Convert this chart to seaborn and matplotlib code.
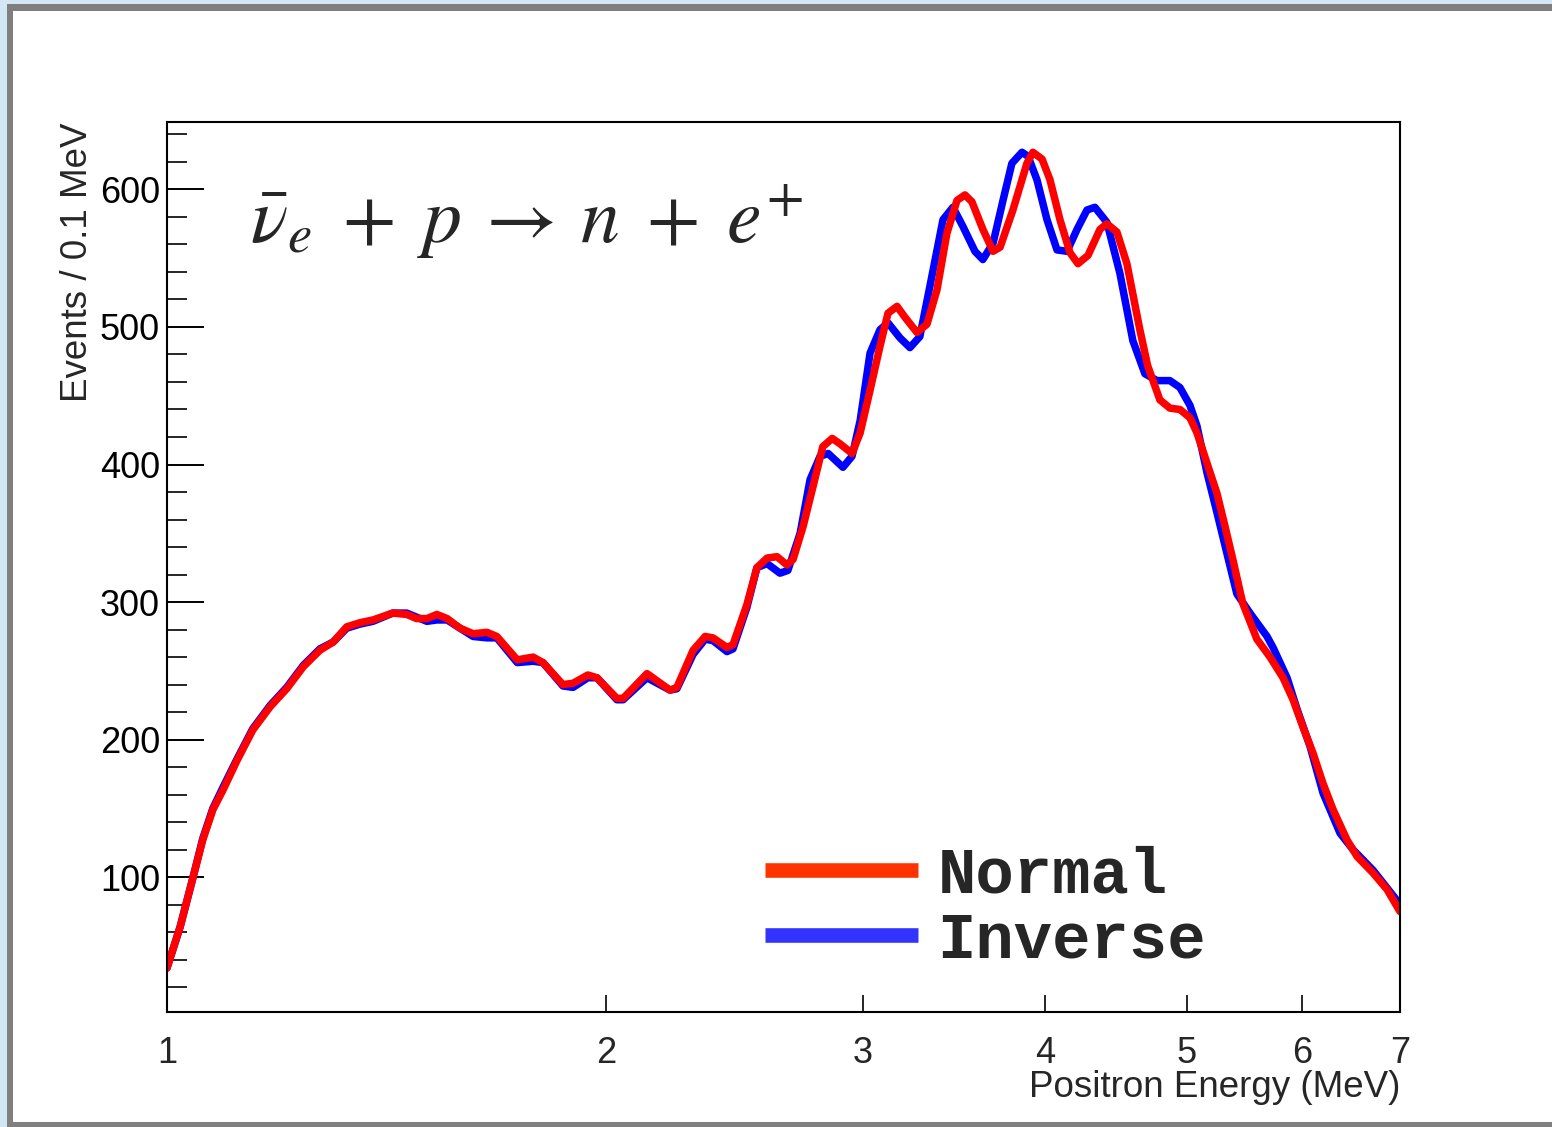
import numpy as np
import pandas as pd
import seaborn as sns
import matplotlib.pyplot as plt
from matplotlib.patches import Rectangle
from matplotlib.lines import Line2D
from matplotlib.ticker import FixedLocator, MultipleLocator, NullLocator

# Positron energy spectrum, normal hierarchy
energy_normal = [1.00, 1.021, 1.042, 1.058, 1.075, 1.092, 1.117, 1.145, 1.177, 1.208,
                 1.240, 1.273, 1.300, 1.328, 1.356, 1.384, 1.428, 1.460, 1.483, 1.507,
                 1.531, 1.556, 1.588, 1.621, 1.657, 1.683, 1.738, 1.782, 1.810, 1.868,
                 1.898, 1.943, 1.971, 2.034, 2.054, 2.133, 2.212, 2.236, 2.294, 2.338,
                 2.367, 2.420, 2.443, 2.497, 2.537, 2.578, 2.619, 2.660, 2.686, 2.729,
                 2.772, 2.815, 2.857, 2.893, 2.948, 2.986, 3.033, 3.081, 3.120, 3.165,
                 3.205, 3.266, 3.318, 3.371, 3.424, 3.479, 3.523, 3.562, 3.624, 3.683,
                 3.724, 3.800, 3.885, 3.922, 3.979, 4.029, 4.093, 4.158, 4.211, 4.278,
                 4.360, 4.408, 4.478, 4.549, 4.643, 4.700, 4.792, 4.868, 4.946, 5.025,
                 5.081, 5.162, 5.244, 5.311, 5.377, 5.462, 5.585, 5.702, 5.820, 5.913,
                 6.007, 6.103, 6.200, 6.299, 6.439, 6.542, 6.709, 6.859, 7.00]
events_normal = [34, 64, 100, 127, 149, 163, 185, 207, 224, 237,
                 253, 265, 271, 282, 285, 287, 292, 291, 288, 288,
                 291, 288, 281, 277, 278, 275, 258, 260, 256, 240,
                 241, 247, 245, 230, 230, 248, 236, 238, 265, 275,
                 274, 267, 269, 298, 325, 332, 333, 327, 331, 355,
                 384, 413, 419, 415, 408, 423, 454, 486, 510, 515,
                 507, 496, 502, 527, 568, 592, 596, 591, 571, 555,
                 558, 585, 619, 627, 622, 607, 578, 554, 546, 552,
                 571, 575, 569, 546, 498, 472, 447, 441, 440, 434,
                 423, 401, 379, 355, 331, 299, 273, 260, 245, 229,
                 209, 190, 168, 149, 127, 115, 103, 91, 75]

# Inverse hierarchy
energy_inverse = [1.00, 1.021, 1.042, 1.058, 1.075, 1.092, 1.117, 1.145, 1.177, 1.208,
                  1.240, 1.273, 1.300, 1.328, 1.356, 1.384, 1.428, 1.460, 1.483, 1.507,
                  1.531, 1.556, 1.588, 1.621, 1.657, 1.683, 1.738, 1.782, 1.810, 1.868,
                  1.898, 1.943, 1.971, 2.034, 2.054, 2.133, 2.212, 2.236, 2.294, 2.338,
                  2.367, 2.420, 2.443, 2.497, 2.537, 2.578, 2.631, 2.664, 2.716, 2.759,
                  2.803, 2.839, 2.906, 2.948, 2.986, 3.033, 3.081, 3.120, 3.180, 3.230,
                  3.281, 3.334, 3.403, 3.457, 3.512, 3.579, 3.624, 3.683, 3.741, 3.794,
                  3.855, 3.892, 3.947, 4.010, 4.074, 4.139, 4.205, 4.271, 4.325, 4.408,
                  4.499, 4.592, 4.680, 4.770, 4.868, 4.946, 5.025, 5.081, 5.162, 5.244,
                  5.328, 5.411, 5.524, 5.675, 5.729, 5.857, 5.951, 6.074, 6.200, 6.368,
                  6.500, 6.709, 6.967, 7.00]
events_inverse = [34, 64, 100, 128, 150, 165, 186, 208, 225, 238,
                  254, 266, 271, 281, 284, 286, 292, 292, 289, 286,
                  287, 287, 281, 275, 274, 274, 256, 257, 256, 239,
                  238, 245, 245, 229, 229, 245, 236, 237, 262, 273,
                  272, 264, 266, 296, 325, 328, 321, 323, 350, 389,
                  406, 408, 398, 406, 432, 481, 498, 503, 492, 485,
                  493, 530, 578, 587, 573, 555, 549, 561, 592, 619,
                  627, 624, 607, 578, 556, 555, 571, 585, 587, 576,
                  539, 490, 466, 461, 461, 456, 443, 428, 394, 365,
                  335, 306, 292, 275, 267, 245, 222, 195, 161, 132,
                  120, 105, 83, 80]

x_ticks = [1, 2, 3, 4, 5, 6, 7]
x_tick_labels = ['1', '2', '3', '4', '5', '6', '7']
legend_labels = ['Normal', 'Inverse']

sns.set_style('ticks')
plt.rcParams['font.family'] = ['Liberation Sans', 'DejaVu Sans']
plt.rcParams['mathtext.fontset'] = 'stix'

W, H = 1552, 1127
fig = plt.figure(figsize=(W / 100, H / 100), dpi=100)
fig.patch.set_facecolor('#d3e6f3')
# ROOT-style canvas frame
fig.add_artist(Rectangle((7 / W, 0), 1, (H - 4) / H, transform=fig.transFigure,
                         facecolor='#7f7f7f', edgecolor='none', zorder=-2))
fig.add_artist(Rectangle((13 / W, 5 / H), 1, (H - 16) / H, transform=fig.transFigure,
                         facecolor='white', edgecolor='none', zorder=-1))

ax = fig.add_axes([167 / W, (H - 1012) / H, 1233 / W, 890 / H])
ax.set_facecolor('white')

sns.lineplot(x=energy_inverse, y=events_inverse, color='#0000ff', lw=5.4,
             estimator=None, sort=False, ax=ax, solid_joinstyle='round')
sns.lineplot(x=energy_normal, y=events_normal, color='#ff0000', lw=5.4,
             estimator=None, sort=False, ax=ax, solid_joinstyle='round')

ax.set_xscale('log')
ax.set_xlim(1, 7)
ax.set_ylim(2, 649)

ax.xaxis.set_major_locator(FixedLocator(x_ticks))
ax.set_xticklabels(x_tick_labels)
ax.xaxis.set_minor_locator(NullLocator())
ax.yaxis.set_major_locator(MultipleLocator(100))
ax.yaxis.set_minor_locator(MultipleLocator(20))

ax.tick_params(axis='y', which='major', direction='in', length=26.5, width=1.4,
               pad=5, labelsize=26, colors='black')
ax.tick_params(axis='y', which='minor', direction='in', length=14.4, width=1.4)
ax.tick_params(axis='x', which='major', direction='in', length=12, width=1.4,
               pad=17, labelsize=26)
ax.tick_params(top=False, right=False)
for s in ax.spines.values():
    s.set_linewidth(1.5)
    s.set_color('black')

ax.set_xlabel('Positron Energy (MeV)', fontsize=26.5, loc='right')
ax.xaxis.set_label_coords(1.0, -0.065)
ax.set_ylabel('Events / 0.1 MeV', fontsize=26.5, loc='top')
ax.yaxis.set_label_coords(-0.058, 1.0)

ax.text(0.067, 0.864, r'$\bar{\nu}_{e}\;+\;p\:\rightarrow\:n\;+\;e^{+}$',
        transform=ax.transAxes, fontsize=56, va='baseline', ha='left')

handles = [Line2D([], [], color='#ff3300', lw=10.5, solid_capstyle='butt'),
           Line2D([], [], color='#3333ff', lw=10.5, solid_capstyle='butt')]
ax.legend(handles, legend_labels, loc='upper left',
          bbox_to_anchor=((765 - 167) / 1233, (1012 - 845) / 890),
          frameon=False, borderpad=0, borderaxespad=0, handlelength=2.4,
          handletextpad=0.3, labelspacing=0.08,
          prop={'family': 'Liberation Mono', 'weight': 'bold', 'size': 46})

fig.savefig('out.png', dpi=100)
